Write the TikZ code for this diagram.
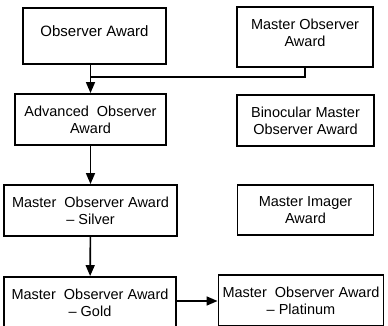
\documentclass[tikz,border=0pt]{standalone}
\usepackage{fontspec}
\setmainfont{Liberation Sans}
\usetikzlibrary{arrows.meta, positioning}

\begin{document}
\begin{tikzpicture}[
  x=1pt, y=-1pt,
  award/.style={draw, line width=1.9pt, align=center, inner sep=0pt, font=\fontsize{14.5}{17}\selectfont},
  awardtext/.style={align=center, inner sep=0pt, font=\fontsize{14.5}{17}\selectfont},
  arrow/.style={-{Triangle[length=11pt, width=9pt]}, line width=1.6pt}
]
\useasboundingbox (0,0) rectangle (388,326);
\node[award, minimum width=143, minimum height=56,
  label={[awardtext, font=\fontsize{15}{18}\selectfont, yshift=5]center:Observer Award}] (observer) at (94.5,36) {};
\node[award, minimum width=136, minimum height=60,
  label={[awardtext, yshift=4]center:Master Observer\\Award}] (master) at (305,37) {};
\node[award, minimum width=151, minimum height=51] (advanced) at (90.5,119.5) {Advanced~~Observer\\Award};
\node[award, minimum width=137, minimum height=51] (binocular) at (305.5,120.5) {Binocular Master\\Observer Award};
\node[award, minimum width=173, minimum height=51] (silver) at (90.5,210.5) {Master~~Observer Award\\– Silver};
\node[award, minimum width=136, minimum height=50] (imager) at (305.5,210) {Master Imager\\Award};
\node[award, minimum width=172, minimum height=51] (gold) at (90,302.5) {Master~~Observer Award\\– Gold};
\node[award, minimum width=165, minimum height=51] (platinum) at (301,300.5) {Master~~Observer Award\\– Platinum};

\coordinate (join) at (advanced.north |- 0,77);
\draw[arrow] (observer.south -| advanced.north) -- (advanced.north);
\draw[line width=1.6pt] (master.south) |- (join);
\draw[arrow] (advanced) -- (silver);
\draw[arrow] (silver) -- (gold);
\draw[arrow] (gold.east |- 0,301) -- (platinum.west |- 0,301);
\end{tikzpicture}
\end{document}
